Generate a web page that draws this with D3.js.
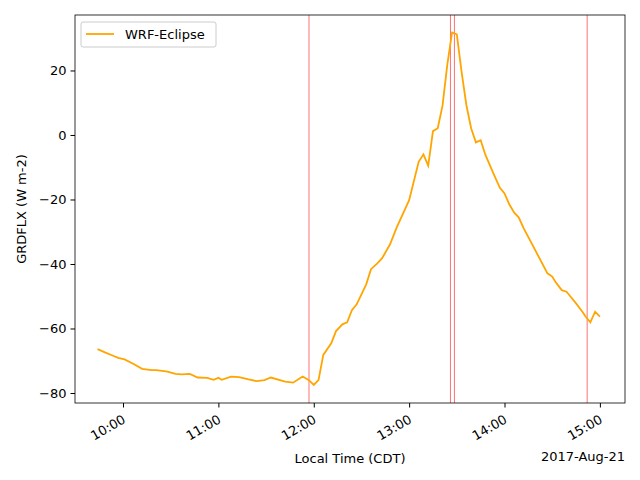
<html>
<head>
<script src="https://d3js.org/d3.v7.min.js"></script>
<style>body{margin:0;background:#fff}text{font-family:"DejaVu Sans",sans-serif}</style>
</head>
<body>
<svg id="c" width="640" height="480"></svg>
<script>
// minutes after 10:00 local time
var minutes = [-16,-11,-7,-3,1,7,12,18,21,28,33,37,42,47,53,57,60,62,68,73,79,84,89,93,102,107,113,117,120,123,
  126,131,134,138,141,144,147,153,156,160,163,168,172,180,186,189,192,195,198,201,204,207,210,213,216,219,222,225,
  228,233,237,240,243,246,249,252,256,267,270,272,276,279,282,285,289,291,294,297,300];
var grdflx = [-66.4,-67.5,-68.3,-69.1,-69.6,-71.1,-72.5,-72.9,-72.9,-73.4,-74.1,-74.2,-74.1,-75.2,-75.3,-75.9,-75.3,-75.9,-74.9,-75.1,-75.8,-76.3,-76.0,-75.2,-76.5,-76.8,-74.9,-76.0,-77.5,-76.0,
  -68.2,-64.6,-60.8,-58.7,-58.1,-54.3,-52.5,-46.3,-41.6,-39.8,-38.2,-33.9,-28.9,-20.2,-8.3,-6.0,-9.5,1.2,2.1,9.1,21.7,31.8,31.2,19.6,9.3,2.1,-2.3,-1.6,
  -6.2,-11.9,-16.3,-18.1,-21.5,-24.0,-25.6,-28.9,-32.6,-42.9,-43.9,-45.5,-48.1,-48.6,-50.4,-52.2,-54.8,-56.3,-58.1,-54.8,-56.3];
var markers = [117, 206, 208.5, 292];
var yTicks = [-80,-60,-40,-20,0,20];
var xTicks = [0,60,120,180,240,300];
var xTickLabels = ["10:00","11:00","12:00","13:00","14:00","15:00"];

var svg = d3.select("#c");
var L = 75, R = 625, T = 15, B = 403;
var x = d3.scaleLinear().domain([-30.2, 315.8]).range([L, R]);
var y = d3.scaleLinear().domain([-83.1, 37.2]).range([B, T]);

var g = svg.append("g");
g.selectAll("line.m").data(markers).enter().append("line")
  .attr("x1", d => x(d)).attr("x2", d => x(d)).attr("y1", T).attr("y2", B)
  .attr("stroke", "red").attr("stroke-opacity", 0.7).attr("stroke-width", 0.8);

g.append("path").datum(d3.zip(minutes, grdflx))
  .attr("d", d3.line().x(d => x(d[0])).y(d => y(d[1])))
  .attr("fill", "none").attr("stroke", "orange").attr("stroke-width", 1.8);

svg.append("rect").attr("x", L).attr("y", T).attr("width", R - L).attr("height", B - T)
  .attr("fill", "none").attr("stroke", "#000").attr("stroke-width", 0.8);

var ya = svg.append("g").attr("transform", "translate(" + L + ",0)")
  .call(d3.axisLeft(y).tickValues(yTicks).tickSize(4.5).tickPadding(4).tickFormat(d => d < 0 ? "\u2212" + (-d) : d));
ya.select(".domain").remove();
ya.selectAll("text").attr("font-size", 13).attr("fill", "#000").style("font-family", "DejaVu Sans");

var xa = svg.append("g").attr("transform", "translate(0," + B + ")")
  .call(d3.axisBottom(x).tickValues(xTicks).tickSize(4.5).tickFormat((d, i) => xTickLabels[i]));
xa.select(".domain").remove();
xa.selectAll("text").attr("font-size", 13).attr("fill", "#000").style("font-family", "DejaVu Sans")
  .attr("text-anchor", "end").attr("dy", 0).attr("y", 0)
  .attr("transform", "translate(3,19) rotate(-30)");

svg.append("text").attr("x", 350).attr("y", 463).attr("text-anchor", "middle").attr("font-size", 13).text("Local Time (CDT)");
svg.append("text").attr("x", 625).attr("y", 461).attr("text-anchor", "end").attr("font-size", 13).text("2017-Aug-21");
svg.append("text").attr("transform", "translate(26,209) rotate(-90)").attr("text-anchor", "middle").attr("font-size", 13).text("GRDFLX (W m-2)");

var lg = svg.append("g");
lg.append("rect").attr("x", 81).attr("y", 22).attr("width", 135).attr("height", 25).attr("rx", 2)
  .attr("fill", "#fff").attr("fill-opacity", 0.8).attr("stroke", "#ccc");
lg.append("line").attr("x1", 86).attr("x2", 114).attr("y1", 34).attr("y2", 34).attr("stroke", "orange").attr("stroke-width", 1.8);
lg.append("text").attr("x", 125).attr("y", 39).attr("font-size", 13).text("WRF-Eclipse");
</script>
</body>
</html>
